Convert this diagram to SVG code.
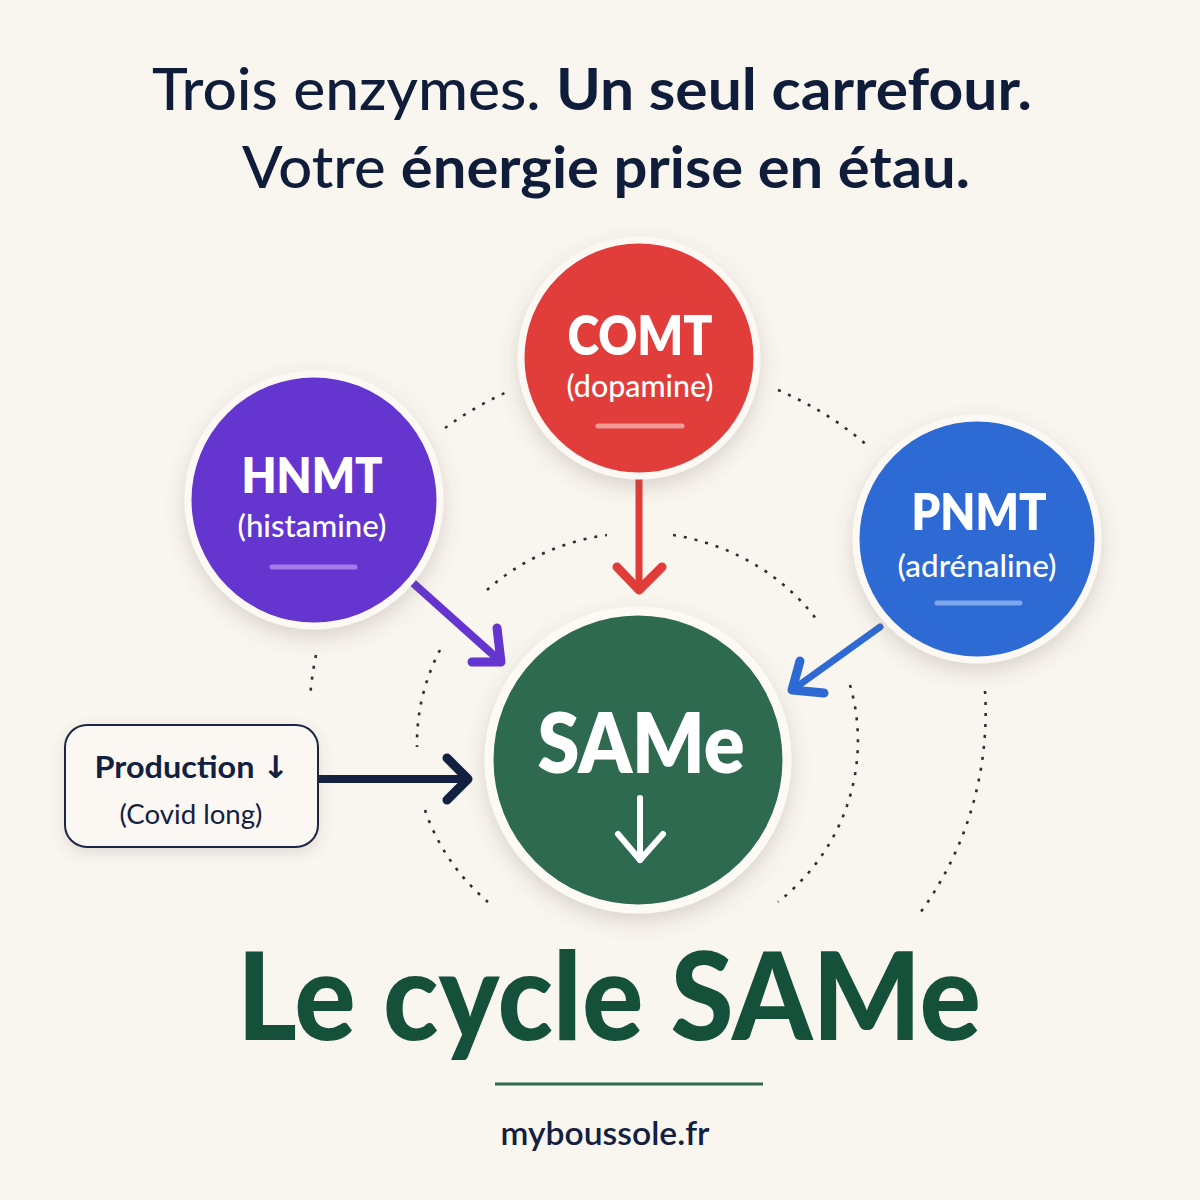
<svg xmlns="http://www.w3.org/2000/svg" width="1200" height="1200" viewBox="0 0 1200 1200">
<defs>
<filter id="sh" x="-30%" y="-30%" width="160%" height="170%">
<feDropShadow dx="0" dy="8" stdDeviation="10" flood-color="#6b5a48" flood-opacity="0.22"/>
</filter>
<filter id="shs" x="-20%" y="-30%" width="140%" height="170%">
<feDropShadow dx="0" dy="5" stdDeviation="7" flood-color="#6b5a48" flood-opacity="0.16"/>
</filter>
</defs>
<style>
.t{font-family:Lato,"Liberation Sans",sans-serif;}
.dot{fill:none;stroke:#2a2f3a;stroke-width:2.6;stroke-dasharray:3 8;}
.ring{stroke:#fcf8f3;stroke-width:7;}
.lbl{font-weight:800;fill:#ffffff;text-anchor:middle;}
.sub{font-weight:500;fill:#ffffff;text-anchor:middle;font-size:30px;}
.bar{stroke-width:5;stroke-linecap:round;}
.arr{fill:none;stroke-linecap:round;stroke-linejoin:round;}
</style>
<rect width="1200" height="1200" fill="#f9f5ef"/>

<g id="title" class="t" fill="#0f1d3a" text-anchor="middle">
<text x="592" y="110" font-size="58" textLength="880" lengthAdjust="spacingAndGlyphs"><tspan font-weight="500">Trois enzymes. </tspan><tspan font-weight="700">Un seul carrefour.</tspan></text>
<text x="606" y="188" font-size="58" textLength="728" lengthAdjust="spacingAndGlyphs"><tspan font-weight="500">Votre </tspan><tspan font-weight="700">énergie prise en étau.</tspan></text>
</g>

<g id="guides">
<path class="dot" d="M445 428 A340 340 0 0 1 507 392"/>
<path class="dot" d="M778 390 A340 340 0 0 1 868 446"/>
<path class="dot" d="M316 655 A340 340 0 0 0 310 698"/>
<path class="dot" d="M985 691 A340 340 0 0 1 920 913"/>
<path class="dot" d="M487 590 A222 210 0 0 1 607 535"/>
<path class="dot" d="M673 535 A222 210 0 0 1 817 620"/>
<path class="dot" d="M440 650 A222 210 0 0 0 417 747"/>
<path class="dot" d="M425 810 A222 210 0 0 0 488 902"/>
<path class="dot" d="M850 685 A222 210 0 0 1 778 902"/>
</g>

<g id="connectors">
<g stroke="#e03c3a" class="arr">
<line x1="639" y1="478" x2="639" y2="588" stroke-width="7"/>
<polyline points="617,567 639,590 662,567" stroke-width="9"/>
</g>
<g stroke="#6535cf" class="arr">
<line x1="413" y1="583" x2="499" y2="660" stroke-width="8"/>
<polyline points="497,628 501,662 472,662" stroke-width="9"/>
</g>
<g stroke="#2d6ad3" class="arr">
<line x1="880" y1="627" x2="795" y2="688" stroke-width="7"/>
<polyline points="800,661 792,690 824,693" stroke-width="9"/>
</g>
<g stroke="#13203f" class="arr">
<line x1="318" y1="779" x2="465" y2="779" stroke-width="8"/>
<polyline points="447,758 468,779 447,800" stroke-width="9"/>
</g>
</g>

<g id="node-comt" class="t">
<circle cx="639" cy="358" r="118" fill="#e03c3a" class="ring" filter="url(#sh)"/>
<text x="640" y="355" font-size="54" class="lbl" textLength="145" lengthAdjust="spacingAndGlyphs">COMT</text>
<text x="640" y="397" class="sub" textLength="147" lengthAdjust="spacingAndGlyphs">(dopamine)</text>
<line x1="598" y1="426" x2="682" y2="426" stroke="#f29a98" class="bar"/>
</g>

<g id="node-hnmt" class="t">
<circle cx="314" cy="500" r="126" fill="#6535cf" class="ring" filter="url(#sh)"/>
<text x="312" y="493" font-size="50" class="lbl" textLength="141" lengthAdjust="spacingAndGlyphs">HNMT</text>
<text x="312" y="537" class="sub" textLength="149" lengthAdjust="spacingAndGlyphs">(histamine)</text>
<line x1="272" y1="567" x2="355" y2="567" stroke="#a47aea" class="bar"/>
</g>

<g id="node-pnmt" class="t">
<circle cx="977" cy="539" r="121" fill="#2d6ad3" class="ring" filter="url(#sh)"/>
<text x="979" y="530" font-size="51" class="lbl" textLength="135" lengthAdjust="spacingAndGlyphs">PNMT</text>
<text x="977" y="577" class="sub" textLength="159" lengthAdjust="spacingAndGlyphs">(adrénaline)</text>
<line x1="937" y1="603" x2="1020" y2="603" stroke="#7ea6ec" class="bar"/>
</g>

<g id="node-same" class="t">
<circle cx="638" cy="760" r="149" fill="#2e6b4f" stroke="#fdfaf6" stroke-width="9" filter="url(#sh)"/>
<text x="641" y="773" font-size="84" class="lbl" textLength="207" lengthAdjust="spacingAndGlyphs">SAMe</text>
<g stroke="#ffffff" class="arr" stroke-width="6">
<line x1="640" y1="798" x2="640" y2="860"/>
<polyline points="618,834 640,860 663,834"/>
</g>
</g>

<g id="node-production" class="t">
<rect x="65" y="725" width="253" height="122" rx="22" fill="#fbf8f3" stroke="#1a2747" stroke-width="2" filter="url(#shs)"/>
<text x="192" y="778" font-size="31" font-weight="700" fill="#13203f" text-anchor="middle" textLength="195" lengthAdjust="spacingAndGlyphs">Production <tspan font-family="'DejaVu Sans',sans-serif">↓</tspan></text>
<text x="191" y="824" font-size="27" font-weight="400" fill="#13203f" text-anchor="middle" textLength="143" lengthAdjust="spacingAndGlyphs">(Covid long)</text>
</g>

<g id="footer" class="t" text-anchor="middle">
<text x="609" y="1040" font-size="122" font-weight="900" fill="#15503a" textLength="744" lengthAdjust="spacingAndGlyphs">Le cycle SAMe</text>
<line x1="495" y1="1084" x2="763" y2="1084" stroke="#2e6b4f" stroke-width="3"/>
<text x="605" y="1145" font-size="32" font-weight="600" fill="#13203f" textLength="209" lengthAdjust="spacingAndGlyphs">myboussole.fr</text>
</g>
</svg>
